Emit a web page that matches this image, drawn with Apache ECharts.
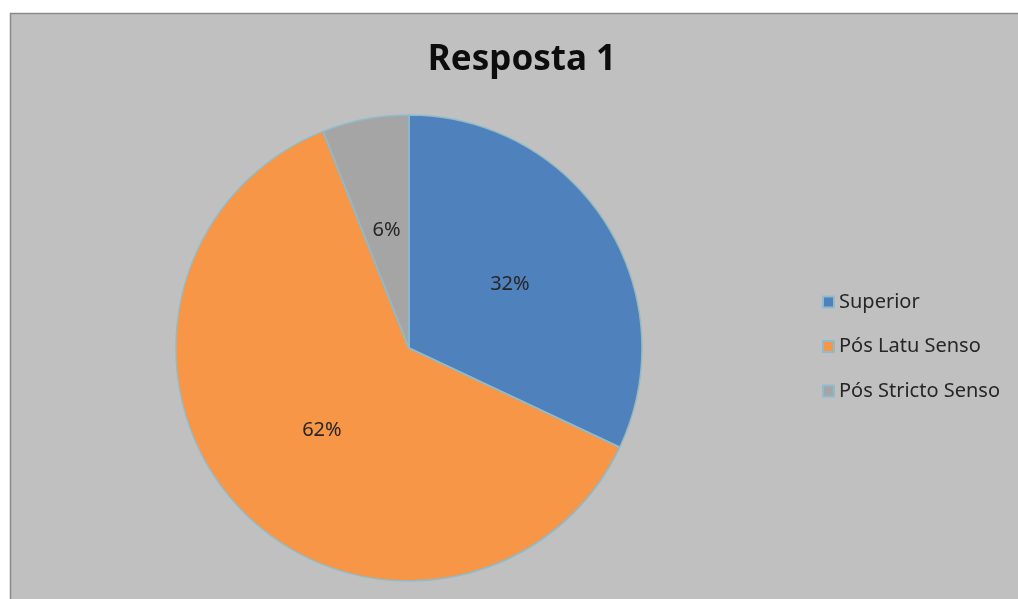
<!DOCTYPE html>
<html>
<head>
<meta charset="utf-8">
<script src="https://cdn.jsdelivr.net/npm/echarts@6/dist/echarts.min.js"></script>
<style>
html,body{margin:0;padding:0;background:#fff;}
#c{width:1018px;height:599px;}
</style>
</head>
<body>
<div id="c"></div>
<script>
const title = 'Resposta 1';
const categories = ['Superior', 'Pós Latu Senso', 'Pós Stricto Senso'];
const values = [32, 62, 6];
const colors = ['#4f81bd', '#f79646', '#a5a5a5'];

const chart = echarts.init(document.getElementById('c'), null, {renderer: 'canvas'});
chart.setOption({
  backgroundColor: '#ffffff',
  animation: false,
  graphic: [{
    type: 'rect',
    z: -10,
    shape: {x: 10.5, y: 13.5, width: 1020, height: 600},
    style: {fill: '#c0c0c0', stroke: '#8a8a8a', lineWidth: 1.5}
  }],
  title: {
    text: title,
    left: 517, top: 38,
    textAlign: 'center',
    textStyle: {fontFamily: 'Noto Sans', fontWeight: 'bold', fontSize: 35, color: '#0d0d0d'}
  },
  legend: {
    orient: 'vertical',
    left: 817, top: 287,
    itemWidth: 11, itemHeight: 11,
    itemGap: 24.5,
    icon: 'rect',
    data: categories,
    textStyle: {fontFamily: 'Noto Sans', fontSize: 20, color: '#262626'}
  },
  series: [{
    type: 'pie',
    center: [409, 348],
    radius: [0, 233],
    startAngle: 90,
    clockwise: true,
    data: categories.map((n, i) => ({name: n, value: values[i], itemStyle: {color: colors[i]}})),
    itemStyle: {borderColor: '#8ebccc', borderWidth: 1.5},
    label: {
      position: 'inside',
      formatter: p => p.value + '%',
      fontFamily: 'Noto Sans', fontSize: 20, color: '#262626'
    },
    labelLine: {show: false},
    emphasis: {disabled: true}
  }]
});
</script>
</body>
</html>
